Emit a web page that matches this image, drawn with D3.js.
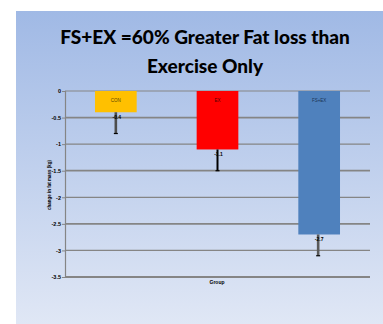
<!DOCTYPE html>
<html>
<head>
<meta charset="utf-8">
<script src="https://cdn.jsdelivr.net/npm/d3@7/dist/d3.min.js"></script>
<style>
  html, body { margin: 0; padding: 0; background: #ffffff; }
  svg { display: block; }
</style>
</head>
<body>
<svg id="chart" width="383" height="324"></svg>
<script>
// Group means and standard errors (change in fat mass, kg)
const groups = ["CON", "EX", "FS+EX"];
const means = [-0.4, -1.1, -2.7];
const errors = [0.4, 0.4, 0.4];
const valueLabels = ["-0.4", "-1.1", "-2.7"];
const barColors = ["#FFC000", "#FF0000", "#4F81BD"];
const errColors = ["#4d4d4d", "#000000", "#595959"];
const yTicks = [0, -0.5, -1, -1.5, -2, -2.5, -3, -3.5];
const yTickLabels = ["0", "-0.5", "-1", "-1.5", "-2", "-2.5", "-3", "-3.5"];
const titleLines = ["FS+EX =60% Greater Fat loss than", "Exercise Only"];
const yTitle = "change in fat mass (kg)";
const xTitle = "Group";

const svg = d3.select("#chart");

// panel background with a vertical gradient
const defs = svg.append("defs");
const grad = defs.append("linearGradient").attr("id", "bg").attr("x1", 0).attr("y1", 0).attr("x2", 0).attr("y2", 1);
grad.append("stop").attr("offset", "0%").attr("stop-color", "#a0b9e5");
grad.append("stop").attr("offset", "100%").attr("stop-color", "#e0e7f5");
svg.append("rect").attr("x", 16).attr("y", 11).attr("width", 367).attr("height", 313).attr("fill", "url(#bg)");

// title
const title = svg.append("g");
const titleBase = [44, 73];
titleLines.forEach((t, i) => {
  title.append("text")
    .attr("x", 205).attr("y", titleBase[i])
    .attr("text-anchor", "middle")
    .attr("font-family", "Lato, 'Open Sans', sans-serif")
    .attr("font-weight", 900)
    .attr("font-size", 20)
    .attr("fill", "#000")
    .text(t);
});
// fit first line to its width
{
  const first = title.select("text").node();
  const w = first.getComputedTextLength();
  const s = 20 * 290 / w;
  title.selectAll("text").attr("font-size", s.toFixed(2));
}

const plot = { left: 65, right: 370, top: 91, bottom: 277 };

const y = d3.scaleLinear().domain([0, -3.5]).range([plot.top, plot.bottom]);
const x = d3.scaleBand().domain(groups).range([plot.left, plot.right]).paddingInner(0.59).paddingOuter(0.295);

// gridlines
svg.append("g").selectAll("line").data(yTicks).join("line")
  .attr("x1", plot.left).attr("x2", plot.right)
  .attr("y1", d => y(d)).attr("y2", d => y(d))
  .attr("stroke", "#858585")
  .attr("stroke-width", (d, i) => (i === yTicks.length - 1 ? 2 : i % 2 === 1 ? 1.8 : 1.2));

// y axis
const yAxis = d3.axisLeft(y).tickValues(yTicks).tickFormat((d, i) => yTickLabels[i]).tickSize(3);
const ya = svg.append("g").attr("transform", `translate(${plot.left},0)`).call(yAxis);
ya.select(".domain").attr("stroke", "#858585").attr("stroke-width", 1.2);
ya.selectAll(".tick line").attr("stroke", "#858585");
ya.selectAll(".tick text")
  .attr("font-family", "Arial, 'Liberation Sans', sans-serif")
  .attr("font-size", 5.5).attr("font-weight", "bold").attr("fill", "#000").attr("x", -4);

// bars
svg.append("g").selectAll("rect").data(groups).join("rect")
  .attr("x", d => x(d))
  .attr("y", y(0))
  .attr("width", x.bandwidth())
  .attr("height", (d, i) => y(means[i]) - y(0))
  .attr("fill", (d, i) => barColors[i]);

// group names inside the bars
svg.append("g").selectAll("text").data(groups).join("text")
  .attr("x", d => x(d) + x.bandwidth() / 2)
  .attr("y", y(0) + 10.5)
  .attr("text-anchor", "middle")
  .attr("font-family", "Arial, 'Liberation Sans', sans-serif")
  .attr("font-size", 4.5)
  .attr("fill", (d, i) => i === 0 ? "#5a4200" : i === 1 ? "#500000" : "#1a3355")
  .text(d => d);

// error bars
const eb = svg.append("g");
groups.forEach((g, i) => {
  const cx = x(g) + x.bandwidth() / 2 + (i === 2 ? -1 : 0);
  const y0 = y(means[i]);
  const y1 = y(means[i] - errors[i]);
  eb.append("line").attr("x1", cx).attr("x2", cx).attr("y1", y0).attr("y2", y1)
    .attr("stroke", errColors[i]).attr("stroke-width", i === 1 ? 2 : 2.6);
  eb.append("line").attr("x1", cx - 2).attr("x2", cx + 2).attr("y1", y1).attr("y2", y1)
    .attr("stroke", "#000").attr("stroke-width", 1.2);
  // value label
  eb.append("text")
    .attr("x", cx + 1).attr("y", y0 + 7)
    .attr("text-anchor", "middle")
    .attr("font-family", "Arial, 'Liberation Sans', sans-serif")
    .attr("font-size", 5).attr("font-weight", "bold").attr("fill", "#000")
    .text(valueLabels[i]);
});

// axis titles
svg.append("text")
  .attr("transform", `translate(${51},${185}) rotate(-90)`)
  .attr("text-anchor", "middle")
  .attr("font-family", "Arial, 'Liberation Sans', sans-serif")
  .attr("font-size", 4.5).attr("font-weight", "bold").attr("fill", "#000")
  .text(yTitle);

svg.append("text")
  .attr("x", 217).attr("y", 284)
  .attr("text-anchor", "middle")
  .attr("font-family", "Arial, 'Liberation Sans', sans-serif")
  .attr("font-size", 5).attr("font-weight", "bold").attr("fill", "#000")
  .text(xTitle);
</script>
</body>
</html>
